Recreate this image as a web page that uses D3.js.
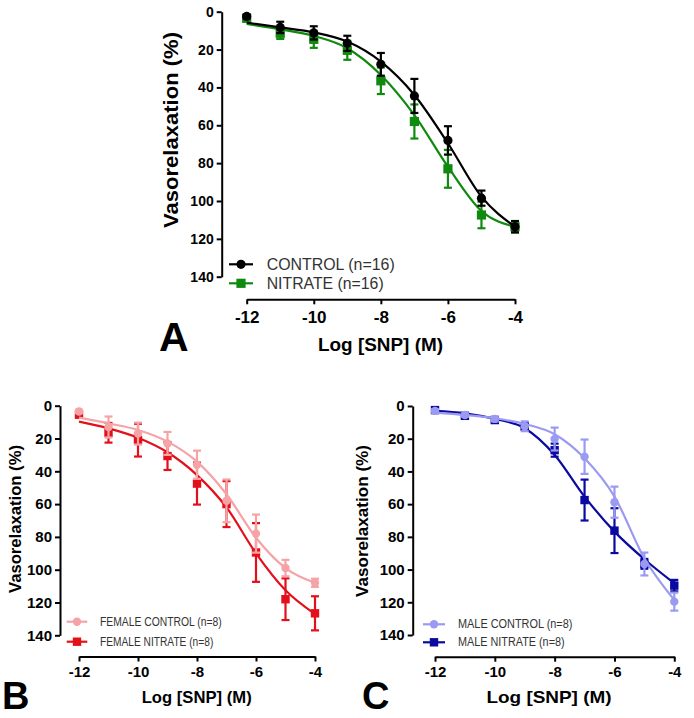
<!DOCTYPE html>
<html><head><meta charset="utf-8">
<script src="https://cdn.jsdelivr.net/npm/d3@7"></script>
<style>
html,body{margin:0;padding:0;background:#fff;}
svg{display:block;font-family:"Liberation Sans",Arial,sans-serif;}
</style></head>
<body>
<svg id="chart" width="694" height="718"></svg>
<script>
// ---------- DATA ----------
const logSNP = [-12, -11, -10, -9, -8, -7, -6, -5, -4];
const xTicks = [-12, -10, -8, -6, -4];
const yTicks = [0, 20, 40, 60, 80, 100, 120, 140];

// Panel A
const controlA      = [2.5, 8.3, 11.2, 16.7, 27.8, 44.5, 68, 98.5, 113.6];
const controlA_sem  = [1, 3, 3.5, 4, 6, 9, 7.5, 4, 3];
const controlA_fit  = [5.8, 8.3, 10.9, 15.8, 26.4, 44, 69.5, 97.7, 113.6];
const nitrateA      = [3.5, 11.4, 14.6, 20.4, 36.5, 58, 83, 107.4, 113.6];
const nitrateA_sem  = [1, 3, 4.5, 5, 7, 9, 10, 7, 3];
const nitrateA_fit  = [6.5, 9.3, 12.8, 19.3, 33.4, 54.6, 81.9, 105.3, 113.6];

// Panel B
const femaleControl     = [3.5, 13, 17, 23, 36, 58, 78, 99, 108];
const femaleControl_sem = [1, 6.4, 6.7, 7, 8.6, 13, 11.6, 5, 2.5];
const femaleControl_fit = [7.3, 10.8, 14.8, 21.9, 34.1, 54, 80.5, 99, 108];
const femaleNitrate     = [5.5, 16.5, 21, 30.7, 47.5, 60, 89.5, 118, 126.6];
const femaleNitrate_sem = [1, 6, 10, 8.5, 12.8, 14, 17.9, 12.7, 10.4];
const femaleNitrate_fit = [9.7, 13.8, 19.5, 28.4, 42.3, 62, 90, 112.5, 127];

// Panel C
const maleControl     = [3, 5.5, 7.9, 12.4, 20.2, 31, 58.8, 96.6, 119.6];
const maleControl_sem = [1, 1, 1.5, 3, 7, 10.5, 9.5, 7, 5.5];
const maleControl_fit = [4, 5.5, 7.5, 11, 17.3, 32, 55.4, 93.1, 118.6];
const maleNitrate     = [2.5, 6, 8.6, 12.5, 27, 57.5, 76.2, 96.5, 109.8];
const maleNitrate_sem = [1, 1, 1.5, 2, 4, 12.5, 13.7, 3, 3.5];
const maleNitrate_fit = [3, 4.5, 7.9, 13.6, 29.9, 55.4, 76.8, 93.7, 108.4];

const yTitle = "Vasorelaxation (%)";
const xTitle = "Log [SNP] (M)";

// ---------- DRAW ----------
const svg = d3.select("#chart");

function drawPanel(p) {
  const g = svg.append("g");
  const x = d3.scaleLinear().domain([-12, -4]).range(p.xRange);
  const y = d3.scaleLinear().domain([0, 140]).range(p.yRange);

  // y axis
  const ya = g.append("g").attr("transform", `translate(${p.yAxisX},0)`)
    .call(d3.axisLeft(y).tickValues(yTicks).tickSize(5).tickSizeOuter(0).tickPadding(3).tickFormat(d => String(d)));
  ya.select(".domain").attr("stroke", "#000").attr("stroke-width", 2);
  ya.selectAll(".tick line").attr("stroke", "#000").attr("stroke-width", 2);
  ya.selectAll(".tick text").attr("font-size", p.yTickFont).attr("font-weight", "bold").attr("fill", "#000")
    .attr("font-family", "Liberation Sans, Arial, sans-serif");

  // x axis
  const xa = g.append("g").attr("transform", `translate(0,${p.xAxisY})`)
    .call(d3.axisBottom(x).tickValues(xTicks).tickSize(5).tickSizeOuter(0).tickPadding(p.xTickPad).tickFormat(d => String(d)));
  xa.select(".domain").attr("stroke", "#000").attr("stroke-width", 2);
  xa.selectAll(".tick line").attr("stroke", "#000").attr("stroke-width", 2);
  xa.selectAll(".tick text").attr("font-size", p.xTickFont).attr("font-weight", "bold").attr("fill", "#000")
    .attr("font-family", "Liberation Sans, Arial, sans-serif");

  // titles
  g.append("text").attr("transform", `translate(${p.yTitlePos[0]},${p.yTitlePos[1]}) rotate(-90)`)
    .attr("text-anchor", "middle").attr("dominant-baseline", "central")
    .attr("font-size", p.yTitleFont).attr("font-weight", "bold")
    .attr("textLength", p.yTitleLen).attr("lengthAdjust", "spacingAndGlyphs").text(yTitle);
  g.append("text").attr("x", p.xTitlePos[0]).attr("y", p.xTitlePos[1])
    .attr("text-anchor", "middle").attr("dominant-baseline", "central")
    .attr("font-size", p.xTitleFont).attr("font-weight", "bold")
    .attr("textLength", p.xTitleLen).attr("lengthAdjust", "spacingAndGlyphs").text(xTitle);
  g.append("text").attr("x", p.letterPos[0]).attr("y", p.letterPos[1])
    .attr("font-size", p.letterFont).attr("font-weight", "bold").text(p.letter);

  const line = d3.line().x((d, i) => x(logSNP[i])).y(d => y(d)).curve(d3.curveMonotoneX);

  // series (drawn in given order)
  p.series.forEach(s => {
    const sg = g.append("g");
    sg.append("path").attr("d", line(s.fit)).attr("fill", "none")
      .attr("stroke", s.color).attr("stroke-width", 2.2);
    s.values.forEach((v, i) => {
      const cx = x(logSNP[i]);
      const e = s.sem[i];
      const y1 = y(v - e), y2 = y(v + e);
      sg.append("line").attr("x1", cx).attr("x2", cx).attr("y1", y1).attr("y2", y2)
        .attr("stroke", s.color).attr("stroke-width", 2.2);
      [y1, y2].forEach(yy => sg.append("line").attr("x1", cx - 4).attr("x2", cx + 4)
        .attr("y1", yy).attr("y2", yy).attr("stroke", s.color).attr("stroke-width", 2.2));
    });
    s.values.forEach((v, i) => {
      const cx = x(logSNP[i]), cy = y(v);
      if (s.shape === "circle")
        sg.append("circle").attr("cx", cx).attr("cy", cy).attr("r", p.mr).attr("fill", s.color);
      else
        sg.append("rect").attr("x", cx - p.mr).attr("y", cy - p.mr)
          .attr("width", 2 * p.mr).attr("height", 2 * p.mr).attr("fill", s.color);
    });
  });

  // legend
  p.legend.forEach((L, k) => {
    const s = p.series.find(t => t.name === L.name);
    const ly = p.legendY[k];
    g.append("line").attr("x1", p.legendLine[0]).attr("x2", p.legendLine[1])
      .attr("y1", ly).attr("y2", ly).attr("stroke", s.color).attr("stroke-width", 2.2);
    const mx = (p.legendLine[0] + p.legendLine[1]) / 2;
    if (s.shape === "circle")
      g.append("circle").attr("cx", mx).attr("cy", ly).attr("r", p.mr).attr("fill", s.color);
    else
      g.append("rect").attr("x", mx - p.mr).attr("y", ly - p.mr)
        .attr("width", 2 * p.mr).attr("height", 2 * p.mr).attr("fill", s.color);
    g.append("text").attr("x", p.legendTextX).attr("y", ly).attr("dominant-baseline", "central")
      .attr("font-size", p.legendFont).attr("fill", "#333")
      .attr("textLength", L.len).attr("lengthAdjust", "spacingAndGlyphs").text(L.name);
  });
}

drawPanel({
  letter: "A", letterPos: [159, 351], letterFont: 41,
  xRange: [246.7, 515], yRange: [11.7, 276.7], yAxisX: 221.7, xAxisY: 299.3,
  yTickFont: 14, xTickFont: 17, xTickPad: 7,
  yTitlePos: [170, 130], yTitleFont: 21, yTitleLen: 196,
  xTitlePos: [380.5, 345], xTitleFont: 18, xTitleLen: 125,
  mr: 4.6,
  series: [
    { name: "NITRATE (n=16)", values: nitrateA, sem: nitrateA_sem, fit: nitrateA_fit, color: "#0f8a0f", shape: "square" },
    { name: "CONTROL (n=16)", values: controlA, sem: controlA_sem, fit: controlA_fit, color: "#000000", shape: "circle" }
  ],
  legend: [{ name: "CONTROL (n=16)", len: 128 }, { name: "NITRATE (n=16)", len: 117 }],
  legendY: [264.3, 283.3], legendLine: [229, 253], legendTextX: 266.7, legendFont: 16
});

drawPanel({
  letter: "B", letterPos: [2, 709], letterFont: 38,
  xRange: [79, 315], yRange: [405.7, 635.3], yAxisX: 60, xAxisY: 656.5,
  yTickFont: 15, xTickFont: 15, xTickPad: 5,
  yTitlePos: [15, 519], yTitleFont: 17, yTitleLen: 148,
  xTitlePos: [196.7, 697], xTitleFont: 17, xTitleLen: 110,
  mr: 4.2,
  series: [
    { name: "FEMALE NITRATE (n=8)", values: femaleNitrate, sem: femaleNitrate_sem, fit: femaleNitrate_fit, color: "#e3101a", shape: "square" },
    { name: "FEMALE CONTROL (n=8)", values: femaleControl, sem: femaleControl_sem, fit: femaleControl_fit, color: "#f5a3a6", shape: "circle" }
  ],
  legend: [{ name: "FEMALE CONTROL (n=8)", len: 121.7 }, { name: "FEMALE NITRATE (n=8)", len: 113.3 }],
  legendY: [621.7, 641.7], legendLine: [66.7, 87.3], legendTextX: 100, legendFont: 12
});

drawPanel({
  letter: "C", letterPos: [362, 709], letterFont: 38,
  xRange: [435, 674.3], yRange: [406, 635], yAxisX: 412.7, xAxisY: 656.7,
  yTickFont: 15, xTickFont: 15, xTickPad: 5,
  yTitlePos: [362, 521], yTitleFont: 17, yTitleLen: 152,
  xTitlePos: [549, 697], xTitleFont: 17, xTitleLen: 125,
  mr: 4.2,
  series: [
    { name: "MALE NITRATE (n=8)", values: maleNitrate, sem: maleNitrate_sem, fit: maleNitrate_fit, color: "#0a0aa0", shape: "square" },
    { name: "MALE CONTROL (n=8)", values: maleControl, sem: maleControl_sem, fit: maleControl_fit, color: "#9a9af2", shape: "circle" }
  ],
  legend: [{ name: "MALE CONTROL (n=8)", len: 114.4 }, { name: "MALE NITRATE (n=8)", len: 106.6 }],
  legendY: [624.3, 642.3], legendLine: [423, 445], legendTextX: 458, legendFont: 12
});
</script>
</body></html>
